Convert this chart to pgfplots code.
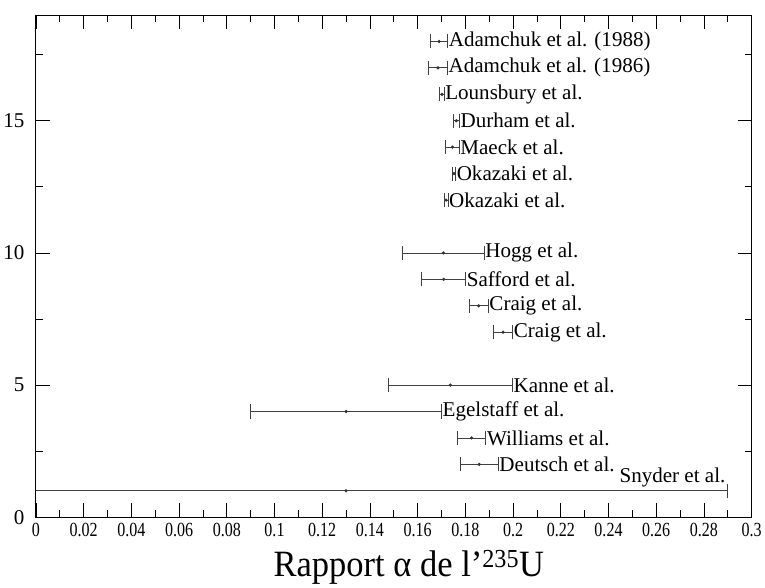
\documentclass[border=0pt]{standalone}
\usepackage{pgfplots}
\pgfplotsset{compat=1.18}
\usepackage{pgfplotstable}
\usepackage{fontspec}
\setmainfont{Liberation Serif}
\newfontfamily\condensed{Liberation Serif}[FakeStretch=0.8]
\newfontfamily\labelfont{Liberation Serif}[FakeStretch=0.93]
\pgfplotstableread{
x y err
0.1690 18 0.0036
0.1685 17 0.0040
0.1702 16 0.0009
0.1762 15 0.0013
0.1746 14 0.0028
0.1752 13 0.0007
0.1719 12 0.0008
0.1708 10 0.0171
0.1709 9 0.0092
0.1856 8 0.0040
0.1958 7 0.0040
0.1737 5 0.0260
0.1300 4 0.0400
0.1826 3 0.0060
0.1858 2 0.0080
0.1300 1 0.1600
}\datatable
\begin{document}
\begin{tikzpicture}
\begin{axis}[
  scale only axis,
  width=714bp, height=501bp,
  xmin=0, xmax=0.3, ymin=0, ymax=19,
  xtick={0,0.02,...,0.3},
  xticklabels={0,0.02,0.04,0.06,0.08,0.1,0.12,0.14,0.16,0.18,0.2,0.22,0.24,0.26,0.28,0.3},
  minor x tick num=1,
  ytick={0,5,10,15},
  minor ytick={2.5,7.5,12.5,17.5},
  tick align=inside,
  major tick length=14bp,
  minor tick length=7bp,
  tick style={black, line width=0.7pt},
  axis line style={line width=1pt},
  /pgf/number format/assume math mode=true,
  xticklabel style={font=\condensed\fontsize{20bp}{22bp}\selectfont, yshift=-2bp},
  yticklabel style={font=\fontsize{21bp}{23bp}\selectfont, xshift=-8bp},
  xlabel={Rapport α de l’\textsuperscript{235}U},
  xlabel style={font=\labelfont\fontsize{37bp}{40bp}\selectfont, yshift=-7bp, xshift=15bp},
  clip=true,
]
\addplot[black!80, line width=0.6pt, mark=*, mark size=1.3bp, only marks,
  error bars/.cd, x dir=both, x explicit,
  error bar style={black!75, line width=0.8pt},
  error mark options={black!75, line width=0.8pt, mark size=7bp, rotate=90}]
  table[x=x, y=y, x error=err] {\datatable};
\begin{scope}[every node/.style={font=\fontsize{21bp}{23bp}\selectfont, inner sep=1bp}]
\node[anchor=west] at (axis cs:0.1726,18) {Adamchuk et al. (1988)};
\node[anchor=west] at (axis cs:0.1725,17) {Adamchuk et al. (1986)};
\node[anchor=west] at (axis cs:0.1711,16) {Lounsbury et al.};
\node[anchor=west] at (axis cs:0.1775,15) {Durham et al.};
\node[anchor=west] at (axis cs:0.1774,14) {Maeck et al.};
\node[anchor=west] at (axis cs:0.1759,13) {Okazaki et al.};
\node[anchor=west] at (axis cs:0.1727,12) {Okazaki et al.};
\node[anchor=west] at (axis cs:0.1879,10) {Hogg et al.};
\node[anchor=west] at (axis cs:0.1801,9) {Safford et al.};
\node[anchor=west] at (axis cs:0.1896,8) {Craig et al.};
\node[anchor=west] at (axis cs:0.1998,7) {Craig et al.};
\node[anchor=west] at (axis cs:0.1997,5) {Kanne et al.};
\node[anchor=west] at (axis cs:0.1700,4) {Egelstaff et al.};
\node[anchor=west] at (axis cs:0.1886,3) {Williams et al.};
\node[anchor=west] at (axis cs:0.1938,2) {Deutsch et al.};
\node[anchor=south east] at (axis cs:0.2895,1.1) {Snyder et al.};
\end{scope}
\end{axis}
\path ([yshift=15bp]current axis.north);
\end{tikzpicture}
\end{document}
